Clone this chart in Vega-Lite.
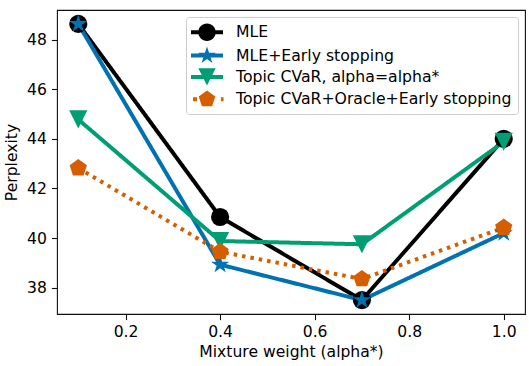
{
  "$schema": "https://vega.github.io/schema/vega-lite/v6.json",
  "width": 468,
  "height": 304,
  "autosize": {"type": "none"},
  "padding": {"left": 57, "top": 10, "right": 4, "bottom": 52},
  "config": {
    "view": {"stroke": "#111111", "strokeWidth": 1.1},
    "font": "DejaVu Sans",
    "axis": {
      "domain": false,
      "grid": false,
      "tickColor": "#111111",
      "tickSize": 5.6,
      "tickWidth": 1.1,
      "labelPadding": 5,
      "labelFont": "DejaVu Sans",
      "labelFontSize": 15.6,
      "labelColor": "#000000",
      "titleFont": "DejaVu Sans",
      "titleFontSize": 15.6,
      "titleFontWeight": "normal",
      "titleColor": "#000000"
    },
    "legend": {
      "labelFont": "DejaVu Sans",
      "labelFontSize": 15.7,
      "labelColor": "#000000",
      "labelLimit": 0,
      "symbolOpacity": 1,
      "symbolStrokeWidth": 0
    }
  },
  "data": {
    "values": [
      {"series": "MLE", "x": 0.1, "y": 48.63},
      {"series": "MLE", "x": 0.4, "y": 40.85},
      {"series": "MLE", "x": 0.7, "y": 37.5},
      {"series": "MLE", "x": 1.0, "y": 44.0},
      {"series": "MLE+Early stopping", "x": 0.1, "y": 48.63},
      {"series": "MLE+Early stopping", "x": 0.4, "y": 38.93},
      {"series": "MLE+Early stopping", "x": 0.7, "y": 37.5},
      {"series": "MLE+Early stopping", "x": 1.0, "y": 40.2},
      {"series": "Topic CVaR, alpha=alpha*", "x": 0.1, "y": 44.78},
      {"series": "Topic CVaR, alpha=alpha*", "x": 0.4, "y": 39.88},
      {"series": "Topic CVaR, alpha=alpha*", "x": 0.7, "y": 39.75},
      {"series": "Topic CVaR, alpha=alpha*", "x": 1.0, "y": 43.88},
      {"series": "Topic CVaR+Oracle+Early stopping", "x": 0.1, "y": 42.82},
      {"series": "Topic CVaR+Oracle+Early stopping", "x": 0.4, "y": 39.45},
      {"series": "Topic CVaR+Oracle+Early stopping", "x": 0.7, "y": 38.35},
      {"series": "Topic CVaR+Oracle+Early stopping", "x": 1.0, "y": 40.42}
    ]
  },
  "encoding": {
    "x": {
      "field": "x",
      "type": "quantitative",
      "scale": {"domain": [0.055, 1.045], "nice": false, "zero": false},
      "axis": {"values": [0.2, 0.4, 0.6, 0.8, 1.0], "format": ".1f", "title": "Mixture weight (alpha*)", "titlePadding": 4}
    },
    "y": {
      "field": "y",
      "type": "quantitative",
      "scale": {"domain": [36.94, 49.19], "nice": false, "zero": false},
      "axis": {"values": [38, 40, 42, 44, 46, 48], "format": "d", "title": "Perplexity", "titlePadding": 7}
    }
  },
  "layer": [
    {
      "mark": {"type": "line", "strokeWidth": 4, "strokeCap": "butt", "strokeJoin": "round"},
      "encoding": {
        "stroke": {
          "field": "series", "type": "nominal", "legend": null,
          "scale": {
            "domain": ["MLE+Early stopping", "MLE", "Topic CVaR, alpha=alpha*", "Topic CVaR+Oracle+Early stopping"],
            "range": ["#0072B2", "#000000", "#009E73", "#D55E00"]
          }
        },
        "strokeDash": {
          "field": "series", "type": "nominal", "legend": null,
          "scale": {
            "domain": ["Topic CVaR+Oracle+Early stopping", "MLE", "MLE+Early stopping", "Topic CVaR, alpha=alpha*"],
            "range": [[3.5, 5], [1, 0], [1, 0], [1, 0]]
          }
        }
      }
    },
    {
      "transform": [{"filter": "datum.series === 'MLE'"}],
      "mark": {"type": "point", "filled": true, "opacity": 1, "size": 330, "shape": "circle"},
      "encoding": {
        "color": {
          "field": "series", "type": "nominal",
          "scale": {
            "domain": ["MLE", "MLE+Early stopping", "Topic CVaR, alpha=alpha*", "Topic CVaR+Oracle+Early stopping"],
            "range": ["#000000", "#0072B2", "#009E73", "#D55E00"]
          }
        }
      }
    },
    {
      "transform": [{"filter": "datum.series === 'MLE+Early stopping'"}],
      "mark": {"type": "point", "filled": true, "opacity": 1, "size": 330, "shape": "M0,-1.05L0.236,-0.325L0.999,-0.325L0.381,0.124L0.617,0.85L0,0.401L-0.617,0.85L-0.381,0.124L-0.999,-0.325L-0.236,-0.325Z"},
      "encoding": {
        "color": {"field": "series", "type": "nominal"}
      }
    },
    {
      "transform": [{"filter": "datum.series === 'Topic CVaR, alpha=alpha*'"}],
      "mark": {"type": "point", "filled": true, "opacity": 1, "size": 330, "shape": "M-1,-1L1,-1L0,1Z"},
      "encoding": {
        "color": {"field": "series", "type": "nominal"}
      }
    },
    {
      "transform": [{"filter": "datum.series === 'Topic CVaR+Oracle+Early stopping'"}],
      "mark": {"type": "point", "filled": true, "opacity": 1, "size": 330, "shape": "M0,-1L0.9511,-0.309L0.5878,0.809L-0.5878,0.809L-0.9511,-0.309Z"},
      "encoding": {
        "color": {"field": "series", "type": "nominal"}
      }
    },
    {
      "mark": {"type": "point", "filled": true, "opacity": 0, "size": 330},
      "encoding": {
        "color": {"field": "series", "type": "nominal"},
        "shape": {
          "field": "series", "type": "nominal",
          "scale": {
            "domain": ["MLE", "MLE+Early stopping", "Topic CVaR, alpha=alpha*", "Topic CVaR+Oracle+Early stopping"],
            "range": [
              "M-1.84,-0.23H1.84V0.23H-1.84ZM1,0A1,1,0,1,1,-1,0A1,1,0,1,1,1,0Z",
              "M-1.84,-0.23H1.84V0.23H-1.84ZM0,-1.05L0.236,-0.325L0.999,-0.325L0.381,0.124L0.617,0.85L0,0.401L-0.617,0.85L-0.381,0.124L-0.999,-0.325L-0.236,-0.325Z",
              "M-1.84,-0.23H1.84V0.23H-1.84ZM-1,-1L1,-1L0,1Z",
              "M-1.6,-0.23H-1.15V0.23H-1.6ZM1.6,-0.23H1.9V0.23H1.6ZM0,-1L0.9511,-0.309L0.5878,0.809L-0.5878,0.809L-0.9511,-0.309Z"
            ]
          },
          "legend": {
            "title": null,
            "orient": "none",
            "legendX": 129,
            "legendY": 7,
            "padding": 6.3,
            "rowPadding": 4.3,
            "symbolSize": 303,
            "symbolOffset": 5.7,
            "labelOffset": 20,
            "symbolStrokeWidth": 0,
            "strokeColor": "#cccccc",
            "fillColor": "rgba(255,255,255,0.8)",
            "cornerRadius": 3,
            "symbolOpacity": 1,
            "labelLimit": 0
          }
        }
      }
    }
  ]
}
